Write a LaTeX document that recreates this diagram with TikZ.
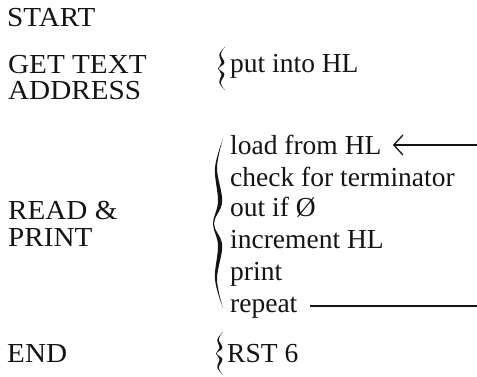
\documentclass[tikz,border=0pt]{standalone}
\usepackage{fontspec}
\setmainfont{Liberation Serif}
\newfontfamily\capsfont[FakeStretch=1.06]{Liberation Serif}
\usetikzlibrary{arrows.meta}

% wavy brace: #1 = x of right ends, #2 = top y, #3 = bottom y, #4 = width
\newcommand{\wavybrace}[4]{%
  \begin{scope}[shift={(#1,#2)}, xscale=#4, yscale={#3-#2}]
    \fill[ink] plot[smooth, tension=0.6] coordinates
      {(0,0) (-0.8,0.17) (-0.5,0.37) (-1,0.5) (-0.5,0.63) (-0.8,0.83) (0,1)}
      -- plot[smooth, tension=0.6] coordinates
      {(0,1) (-0.6,0.83) (-0.08,0.63) (-0.9,0.5) (-0.08,0.37) (-0.6,0.17) (0,0)}
      -- cycle;
  \end{scope}}

\begin{document}
\begin{tikzpicture}[x=1pt, y=-1pt,
  ink/.style={black!92},
  lbl/.style={anchor=base west, inner sep=0pt, text=black!92,
              font=\capsfont\fontsize{27.5}{30}\selectfont},
  itm/.style={anchor=base west, inner sep=0pt, text=black!92,
              font=\fontsize{27.5}{30}\selectfont},
  conn/.style={draw=black!92, line width=1.3pt}]
\useasboundingbox (0,0) rectangle (477,377);

% left column
\node[lbl] (start)   at (7,27)   {START};
\node[lbl] (get)     at (8,74)   {GET TEXT};
\node[lbl] (address) at (8,100)  {ADDRESS};
\node[lbl] (read)    at (8,219)  {READ \&};
\node[lbl] (printL)  at (8,247)  {PRINT};
\node[lbl] (endL)    at (7,362)  {END};

% right column
\node[itm] (put)    at (230,73)  {put into HL};
\node[itm] (load)   at (230,155) {load from HL};
\node[itm] (check)  at (230,186) {check for terminator};
\node[itm] (outif)  at (230,217) {out if Ø};
\node[itm] (incr)   at (230,248) {increment HL};
\node[itm] (prt)    at (230,280) {print};
\node[itm] (rep)    at (230,312) {repeat};
\node[itm] (rst)    at (227,362) {RST 6};

% braces
\wavybrace{225}{47}{90}{7}
\wavybrace{223}{139}{308}{10}
\wavybrace{223}{332}{375}{7}

% loop connectors
\coordinate (atip)   at (393,145);
\coordinate (aright) at (477,145);
\coordinate (rstart) at (310,306);
\coordinate (rright) at (477,306);
\draw[conn, {Straight Barb[length=9pt, width=20pt, line width=1.3pt]}-] (atip) -- (aright);
\draw[conn] (rstart) -- (rright);
\end{tikzpicture}
\end{document}
